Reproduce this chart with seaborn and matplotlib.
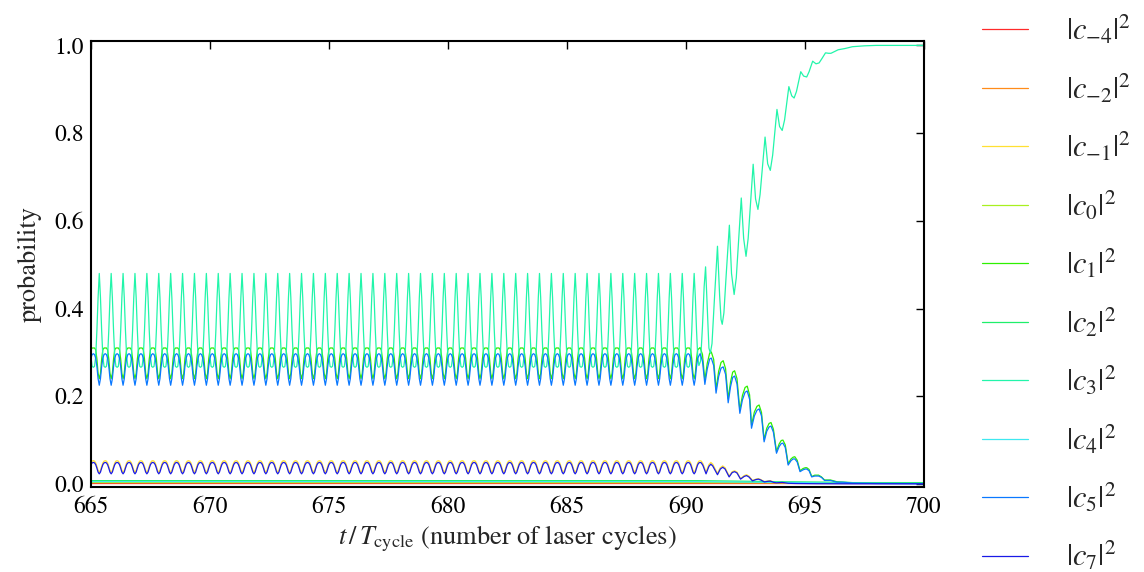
import numpy as np
import pandas as pd
import matplotlib
matplotlib.use("Agg")
import matplotlib.pyplot as plt
from matplotlib.lines import Line2D
import seaborn as sns

# ---------------- data ----------------
states = ["c-4", "c-2", "c-1", "c0", "c1", "c2", "c3", "c4", "c5", "c7"]
labels = [r"$|c_{-4}|^2$", r"$|c_{-2}|^2$", r"$|c_{-1}|^2$", r"$|c_{0}|^2$",
          r"$|c_{1}|^2$", r"$|c_{2}|^2$", r"$|c_{3}|^2$", r"$|c_{4}|^2$",
          r"$|c_{5}|^2$", r"$|c_{7}|^2$"]
colors = ["#ff2a2a", "#ff8c1a", "#ffe033", "#a8f020", "#2ef000",
          "#1eef6a", "#22f5aa", "#3ee8f0", "#0a78ff", "#1a1ae6"]

# steady regime (665 - 690.35): one half laser cycle, sampled every 0.05 cycle,
# starting at a |c3|^2 spike; repeats identically in the picture
steady_start = 664.85
steady_step = 0.05
steady_halfcycles = 51
c3_wave = [0.480, 0.425, 0.350, 0.290, 0.268, 0.266, 0.268, 0.290, 0.350, 0.425]
c1_wave = [0.240, 0.252, 0.285, 0.306, 0.310, 0.310, 0.310, 0.306, 0.285, 0.252]
c5_wave = [0.225, 0.240, 0.268, 0.287, 0.295, 0.297, 0.295, 0.287, 0.268, 0.240]
cm1_wave = [0.027, 0.031, 0.040, 0.048, 0.052, 0.053, 0.052, 0.048, 0.040, 0.031]
c7_wave = [0.023, 0.027, 0.036, 0.044, 0.048, 0.049, 0.048, 0.044, 0.036, 0.027]

# transition regime (after 690.35)
c3_tr_t = [690.40, 690.45, 690.50, 690.55, 690.62, 690.70, 690.77, 690.83,
           690.90, 690.97, 691.03, 691.10, 691.20, 691.33,
           691.42, 691.48, 691.53, 691.60, 691.70, 691.83,
           691.92, 692.03, 692.12, 692.33,
           692.43, 692.53, 692.62, 692.83,
           692.93, 693.03, 693.12, 693.33,
           693.44, 693.55, 693.65, 693.83,
           693.94, 694.05, 694.15, 694.33,
           694.45, 694.55, 694.65, 694.83,
           694.95, 695.08, 695.18, 695.33,
           695.47, 695.60, 695.72, 695.87,
           696.00, 696.10, 696.25, 696.40,
           696.70, 697.00, 697.50, 698.00, 700.00]
c3_tr_v = [0.425, 0.350, 0.290, 0.270, 0.280, 0.360, 0.450, 0.495,
           0.400, 0.310, 0.298, 0.320, 0.420, 0.542,
           0.430, 0.375, 0.364, 0.390, 0.480, 0.590,
           0.480, 0.432, 0.470, 0.652,
           0.560, 0.519, 0.560, 0.729,
           0.650, 0.626, 0.660, 0.791,
           0.730, 0.715, 0.750, 0.854,
           0.815, 0.806, 0.830, 0.906,
           0.885, 0.880, 0.895, 0.940,
           0.930, 0.928, 0.940, 0.964,
           0.958, 0.960, 0.970, 0.983,
           0.982, 0.982, 0.986, 0.990,
           0.993, 0.997, 0.999, 1.000, 1.000]

c15_tr_t = [690.40, 690.45, 690.50, 690.60, 690.70, 690.80,
            690.90, 691.00, 691.07, 691.17, 691.27,
            691.38, 691.48, 691.57, 691.67, 691.78,
            691.88, 691.97, 692.05, 692.15, 692.27,
            692.38, 692.49, 692.58, 692.68, 692.76,
            692.88, 692.99, 693.08, 693.18, 693.29,
            693.40, 693.50, 693.58, 693.68, 693.81,
            693.92, 694.01, 694.08, 694.18, 694.30,
            694.42, 694.51, 694.58, 694.68, 694.80,
            694.92, 695.02, 695.08, 695.18, 695.29,
            695.42, 695.58, 695.70, 695.83,
            695.95, 696.08, 696.35, 696.60,
            697.00, 698.00, 700.00]
c5_tr_v = [0.240, 0.268, 0.287, 0.297, 0.280, 0.227,
           0.262, 0.285, 0.287, 0.270, 0.207,
           0.245, 0.264, 0.267, 0.250, 0.185,
           0.222, 0.243, 0.246, 0.228, 0.161,
           0.192, 0.209, 0.212, 0.193, 0.127,
           0.155, 0.168, 0.171, 0.155, 0.096,
           0.120, 0.130, 0.132, 0.118, 0.070,
           0.085, 0.092, 0.093, 0.083, 0.043,
           0.053, 0.057, 0.057, 0.050, 0.028,
           0.032, 0.034, 0.034, 0.030, 0.016,
           0.018, 0.018, 0.015, 0.008,
           0.008, 0.008, 0.004, 0.004,
           0.002, 0.001, 0.0005]
c1_tr_v = [0.252, 0.285, 0.306, 0.311, 0.295, 0.236,
           0.275, 0.298, 0.301, 0.284, 0.216,
           0.257, 0.277, 0.281, 0.263, 0.194,
           0.233, 0.255, 0.258, 0.240, 0.169,
           0.202, 0.220, 0.223, 0.203, 0.134,
           0.164, 0.177, 0.180, 0.163, 0.101,
           0.127, 0.138, 0.140, 0.125, 0.074,
           0.091, 0.099, 0.100, 0.089, 0.046,
           0.057, 0.061, 0.062, 0.054, 0.030,
           0.035, 0.037, 0.037, 0.033, 0.017,
           0.020, 0.020, 0.016, 0.009,
           0.009, 0.009, 0.005, 0.004,
           0.003, 0.002, 0.002]

low_tr_t = [690.40, 690.45, 690.50, 690.55, 690.60, 690.65, 690.72, 690.85,
            690.97, 691.05, 691.13, 691.33,
            691.45, 691.55, 691.65, 691.82,
            691.95, 692.05, 692.15, 692.30,
            692.45, 692.55, 692.65, 692.80,
            692.95, 693.05, 693.15, 693.30,
            693.45, 693.55, 693.70, 693.80,
            694.05, 694.30, 694.60, 695.50, 697.00, 700.00]
cm1_tr_v = [0.031, 0.040, 0.048, 0.052, 0.053, 0.052, 0.046, 0.027,
            0.044, 0.049, 0.045, 0.024,
            0.037, 0.041, 0.037, 0.018,
            0.028, 0.030, 0.027, 0.012,
            0.019, 0.021, 0.018, 0.008,
            0.011, 0.012, 0.010, 0.005,
            0.007, 0.0075, 0.004, 0.003,
            0.004, 0.002, 0.002, 0.0018, 0.0018, 0.0018]
c7_tr_v = [0.027, 0.036, 0.044, 0.048, 0.049, 0.048, 0.042, 0.023,
           0.040, 0.045, 0.041, 0.021,
           0.034, 0.038, 0.034, 0.016,
           0.026, 0.028, 0.025, 0.011,
           0.017, 0.019, 0.016, 0.007,
           0.010, 0.011, 0.009, 0.0045,
           0.006, 0.0065, 0.0035, 0.0025,
           0.0035, 0.0015, 0.001, 0.0005, 0.0003, 0.0003]

# nearly-empty states
c2_t = [665, 690.5, 692, 694, 696, 697, 700]
c2_v = [0.0075, 0.0075, 0.0065, 0.005, 0.004, 0.003, 0.003]
c4_t = [665, 690.5, 693, 695, 697, 700]
c4_v = [0.0052, 0.0052, 0.004, 0.003, 0.0015, 0.001]
c0_t = [665, 690.5, 694, 697, 700]
c0_v = [0.0035, 0.0035, 0.003, 0.0025, 0.0025]
cm2_t = [665, 700]
cm2_v = [0.0025, 0.002]
cm4_t = [665, 700]
cm4_v = [0.0012, 0.0012]

xticks = [665, 670, 675, 680, 685, 690, 695, 700]
yticks = [0.0, 0.2, 0.4, 0.6, 0.8, 1.0]

# ---------------- build long table ----------------
t_steady = steady_start + steady_step * np.arange(steady_halfcycles * 10 + 1)


def steady_plus(wave, tr_t, tr_v):
    v = np.concatenate([np.tile(wave, steady_halfcycles), wave[:1]])
    return (np.concatenate([t_steady, tr_t]), np.concatenate([v, tr_v]))


series = {
    "c-4": (np.array(cm4_t), np.array(cm4_v)),
    "c-2": (np.array(cm2_t), np.array(cm2_v)),
    "c-1": steady_plus(cm1_wave, low_tr_t, cm1_tr_v),
    "c0": (np.array(c0_t), np.array(c0_v)),
    "c1": steady_plus(c1_wave, c15_tr_t, c1_tr_v),
    "c2": (np.array(c2_t), np.array(c2_v)),
    "c3": steady_plus(c3_wave, c3_tr_t, c3_tr_v),
    "c4": (np.array(c4_t), np.array(c4_v)),
    "c5": steady_plus(c5_wave, c15_tr_t, c5_tr_v),
    "c7": steady_plus(c7_wave, low_tr_t, c7_tr_v),
}
frames = []
for s in states:
    tt, vv = series[s]
    frames.append(pd.DataFrame({"t": tt, "p": vv, "state": s}))
df = pd.concat(frames, ignore_index=True)

# ---------------- style ----------------
sns.set_theme(style="white")
plt.rcParams["font.family"] = ["STIXGeneral", "DejaVu Serif"]
plt.rcParams["mathtext.fontset"] = "stix"

fig = plt.figure(figsize=(11.44, 5.72), dpi=100)
ax = fig.add_axes([0.0795, 0.1486, 0.728, 0.7797])

palette = dict(zip(states, colors))
sns.lineplot(data=df, x="t", y="p", hue="state", hue_order=states,
             palette=palette, estimator=None, sort=False, linewidth=0.9,
             legend=False, ax=ax)

ax.set_xlim(665, 700)
ax.set_ylim(-0.007, 1.01)
ax.set_xticks(xticks)
ax.set_xticklabels([str(x) for x in xticks])
ax.set_yticks(yticks)
ax.set_yticklabels([f"{y:.1f}" for y in yticks])
ax.tick_params(direction="in", length=6, width=1, top=True, right=True,
               labelsize=17, colors="black")
ax.tick_params(axis="x", pad=7)
ax.tick_params(axis="y", pad=5)
for sp in ax.spines.values():
    sp.set_linewidth(1.5)
    sp.set_color("black")

ax.set_xlabel(r"$t\,/\,T_{\rm cycle}$ (number of laser cycles)", fontsize=19,
              labelpad=4)
ax.set_ylabel("probability", fontsize=19, labelpad=9)

handles = [Line2D([0], [0], color=c, lw=0.9) for c in colors]
fig.legend(handles, labels, loc="upper left",
           bbox_to_anchor=(968 / 1144, 1.0), frameon=False, fontsize=22,
           handlelength=1.5, handletextpad=1.25, labelspacing=0.82,
           borderaxespad=0.0, borderpad=0.45)

fig.savefig("out.png", dpi=100)
